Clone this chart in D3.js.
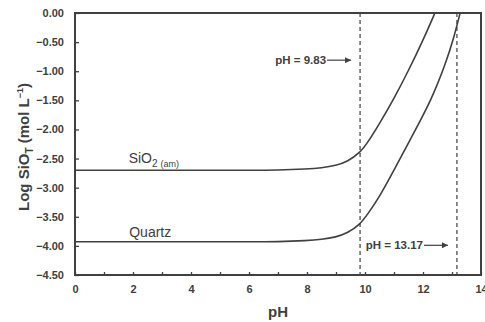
<!DOCTYPE html>
<html>
<head>
<meta charset="utf-8">
<script src="https://cdn.jsdelivr.net/npm/d3@7"></script>
<style>
  body { margin: 0; background: #fff; }
  svg { font-family: "Liberation Sans", Arial, sans-serif; }
</style>
</head>
<body>
<div id="chart"></div>
<script>
// Data
const amorphousPH  = [0, 2, 4, 6, 7, 8, 8.5, 9, 9.4, 9.83, 10.1, 10.5, 11.0, 11.5, 12.0, 12.41];
const amorphousLog = [-2.70, -2.70, -2.70, -2.70, -2.70, -2.68, -2.66, -2.62, -2.55, -2.40, -2.22, -1.90, -1.47, -0.99, -0.47, 0.0];

const quartzPH  = [0, 2, 4, 6, 7, 8, 8.5, 9, 9.4, 9.83, 10.1, 10.52, 11.0, 11.55, 12.3, 12.82, 13.05, 13.28];
const quartzLog = [-3.93, -3.93, -3.93, -3.93, -3.93, -3.91, -3.89, -3.85, -3.78, -3.63, -3.45, -3.14, -2.70, -2.18, -1.49, -0.81, -0.45, 0.0];

const pKaValues = [9.83, 13.17];
const pKaLabels = ["pH = 9.83", "pH = 13.17"];

const xTicks = d3.range(0, 15, 1);
const yTicks = d3.range(0, -4.51, -0.5);

const ink = "#404040";

const margin = { top: 13, right: 4, bottom: 47, left: 75 };
const width = 485 - margin.left - margin.right;
const height = 322 - margin.top - margin.bottom;

const svg = d3.select("#chart").append("svg")
    .attr("width", 485)
    .attr("height", 322)
    .append("g")
    .attr("transform", `translate(${margin.left},${margin.top})`);

svg.append("defs").append("marker")
    .attr("id", "arrow")
    .attr("viewBox", "0 0 10 10")
    .attr("refX", 10).attr("refY", 5)
    .attr("markerWidth", 9).attr("markerHeight", 6)
    .attr("markerUnits", "userSpaceOnUse")
    .attr("orient", "auto")
    .append("path")
    .attr("d", "M0,0L10,5L0,10Z")
    .attr("fill", ink);

const x = d3.scaleLinear().domain([0, 14]).range([0, width]);
const y = d3.scaleLinear().domain([-4.5, 0]).range([height, 0]);

// Axes (ticks pointing inward)
const xAxis = svg.append("g")
    .attr("transform", `translate(0,${height})`)
    .call(d3.axisBottom(x).tickValues(xTicks).tickSizeInner(-3).tickSizeOuter(0)
        .tickPadding(10).tickFormat(d => d % 2 === 0 ? d : ""));

const yAxis = svg.append("g")
    .call(d3.axisLeft(y).tickValues(yTicks).tickSizeInner(-4).tickSizeOuter(0)
        .tickPadding(11).tickFormat(d3.format(".2f")));

[xAxis, yAxis].forEach(g => {
    g.select(".domain").remove();
    g.selectAll("line").attr("stroke", ink).attr("stroke-width", 1.3);
    g.selectAll("text")
        .attr("fill", ink)
        .style("font-size", "11px")
        .style("font-weight", "bold");
});

// Frame
svg.append("rect")
    .attr("x", 0).attr("y", 0)
    .attr("width", width).attr("height", height)
    .attr("fill", "none")
    .attr("stroke", ink)
    .attr("stroke-width", 2);

// Dashed pKa lines
svg.selectAll(".pka")
    .data(pKaValues)
    .join("line")
    .attr("x1", d => x(d)).attr("x2", d => x(d))
    .attr("y1", y(0)).attr("y2", y(-4.5))
    .attr("stroke", ink)
    .attr("stroke-width", 1.2)
    .attr("stroke-dasharray", "4,3");

// Solubility curves
const line = d3.line()
    .x(d => x(d[0]))
    .y(d => y(d[1]))
    .curve(d3.curveBasis);

[[amorphousPH, amorphousLog], [quartzPH, quartzLog]].forEach(([ph, lg]) => {
    svg.append("path")
        .datum(d3.zip(ph, lg))
        .attr("fill", "none")
        .attr("stroke", ink)
        .attr("stroke-width", 1.6)
        .attr("d", line);
});

// Curve labels
const amLabel = svg.append("text")
    .attr("x", x(1.85))
    .attr("y", y(-2.58))
    .attr("fill", ink)
    .style("font-size", "14px");
amLabel.append("tspan").text("SiO");
amLabel.append("tspan").attr("dy", 4).style("font-size", "10px").text("2");
amLabel.append("tspan").attr("dx", 3).style("font-size", "9px").text("(am)");

svg.append("text")
    .attr("x", x(1.87))
    .attr("y", y(-3.85))
    .attr("fill", ink)
    .style("font-size", "14px")
    .text("Quartz");

// pKa annotations with arrows
const annY = [-0.81, -3.99];
pKaValues.forEach((v, i) => {
    const ay = y(annY[i]);
    const arrowEnd = x(v) - 9;
    const arrowStart = arrowEnd - 24;
    svg.append("line")
        .attr("x1", arrowStart).attr("x2", arrowEnd)
        .attr("y1", ay).attr("y2", ay)
        .attr("stroke", ink)
        .attr("stroke-width", 1.2)
        .attr("marker-end", "url(#arrow)");
    svg.append("text")
        .attr("x", arrowStart - 1)
        .attr("y", ay)
        .attr("dy", "0.35em")
        .attr("text-anchor", "end")
        .attr("fill", ink)
        .style("font-size", "11.5px")
        .style("font-weight", "bold")
        .text(pKaLabels[i]);
});

// Axis titles
svg.append("text")
    .attr("x", width / 2)
    .attr("y", height + 42)
    .attr("text-anchor", "middle")
    .attr("fill", ink)
    .style("font-size", "15px")
    .style("font-weight", "bold")
    .text("pH");

const yTitle = svg.append("text")
    .attr("transform", `translate(-46,${height / 2 + 3}) rotate(-90)`)
    .attr("text-anchor", "middle")
    .attr("fill", ink)
    .style("font-size", "15px")
    .style("font-weight", "bold");
yTitle.append("tspan").text("Log SiO");
yTitle.append("tspan").attr("dy", 4).style("font-size", "10px").text("T");
yTitle.append("tspan").attr("dy", -4).text(" (mol L");
yTitle.append("tspan").attr("dy", -6).style("font-size", "9px").text("\u22121");
yTitle.append("tspan").attr("dy", 6).text(")");
</script>
</body>
</html>
